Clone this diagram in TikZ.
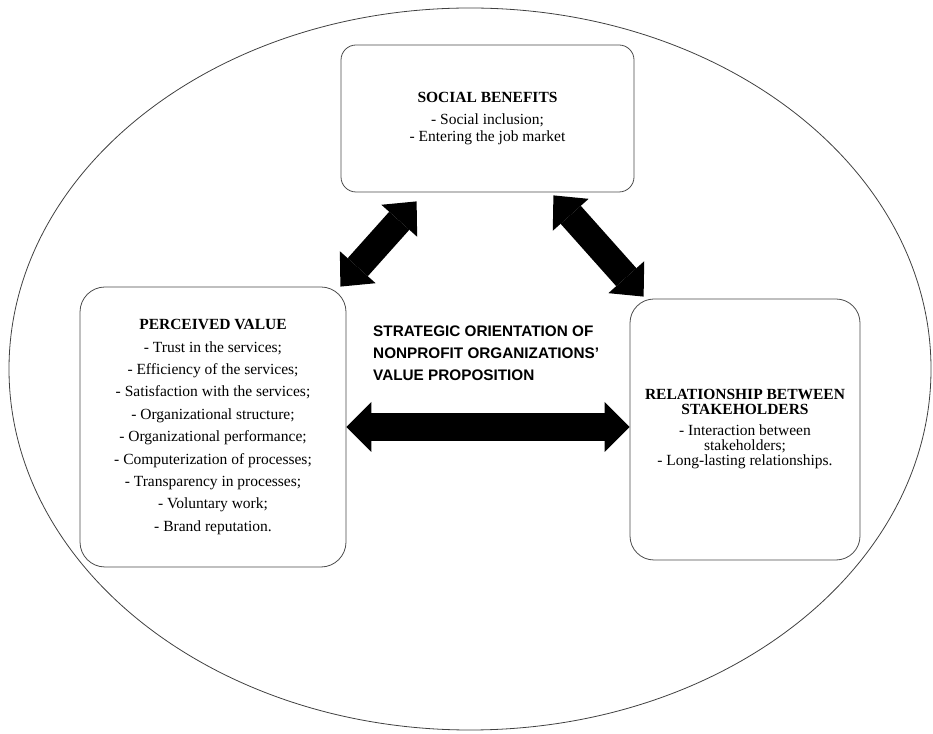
\documentclass[tikz,border=0pt]{standalone}
\usepackage{fontspec}
\setmainfont{Liberation Serif}
\newfontfamily\headfont{Liberation Sans}
\usetikzlibrary{arrows.meta}

\tikzset{
  box/.style={draw=black!70, line width=0.8pt, fill=white, align=center, inner sep=0pt},
  hvarrow/.style={line width=28pt,
    {Triangle[length=25pt,width=50pt,line width=0pt]}-{Triangle[length=25pt,width=50pt,line width=0pt]}},
  dgarrow/.style={line width=27pt,
    {Triangle[length=26pt,width=48pt,line width=0pt]}-{Triangle[length=26pt,width=48pt,line width=0pt]}},
}

\begin{document}
\begin{tikzpicture}[x=1pt,y=1pt]
    \useasboundingbox (0,0) rectangle (933,733);
    \draw[black!75, line width=0.8pt] (470,364) ellipse [x radius=461, y radius=361];

    \node[box, rounded corners=15pt, minimum width=293pt, minimum height=147pt,
      font=\fontsize{15.5}{17}\selectfont] (sb) at (487.5,614.5)
      {\textbf{SOCIAL BENEFITS}\\[5pt] - Social inclusion;\\ - Entering the job market};
    \node[box, rounded corners=25pt, minimum width=266pt, minimum height=280pt,
      font=\fontsize{15.5}{22.4}\selectfont] (pv) at (213,306)
      {\textbf{PERCEIVED VALUE}\\ - Trust in the services;\\ - Efficiency of the services;\\
       - Satisfaction with the services;\\ - Organizational structure;\\
       - Organizational performance;\\ - Computerization of processes;\\
       - Transparency in processes;\\ - Voluntary work;\\ - Brand reputation.};
    \node[box, rounded corners=24pt, minimum width=230pt, minimum height=261pt,
      font=\fontsize{15.5}{15}\selectfont] (rs) at (745,303.5)
      {\textbf{RELATIONSHIP BETWEEN}\\ \textbf{STAKEHOLDERS}\\[6pt] - Interaction between\\
       stakeholders;\\ - Long-lasting relationships.};
    \node[anchor=north west, align=left, inner sep=0pt,
      font=\headfont\bfseries\fontsize{15.3}{22}\selectfont] (so) at (373,407)
      {STRATEGIC ORIENTATION OF\\NONPROFIT ORGANIZATIONS’\\VALUE PROPOSITION};

    %% links
    \draw[hvarrow] (pv.east) -- (pv.east -| rs.west);
    \draw[dgarrow] ([xshift=-6pt]pv.north east) -- ([shift={(76pt,-9pt)}]sb.south west);
    \draw[dgarrow] ([shift={(-81pt,-3pt)}]sb.south east) -- ([shift={(14pt,2pt)}]rs.north west);
\end{tikzpicture}
\end{document}
